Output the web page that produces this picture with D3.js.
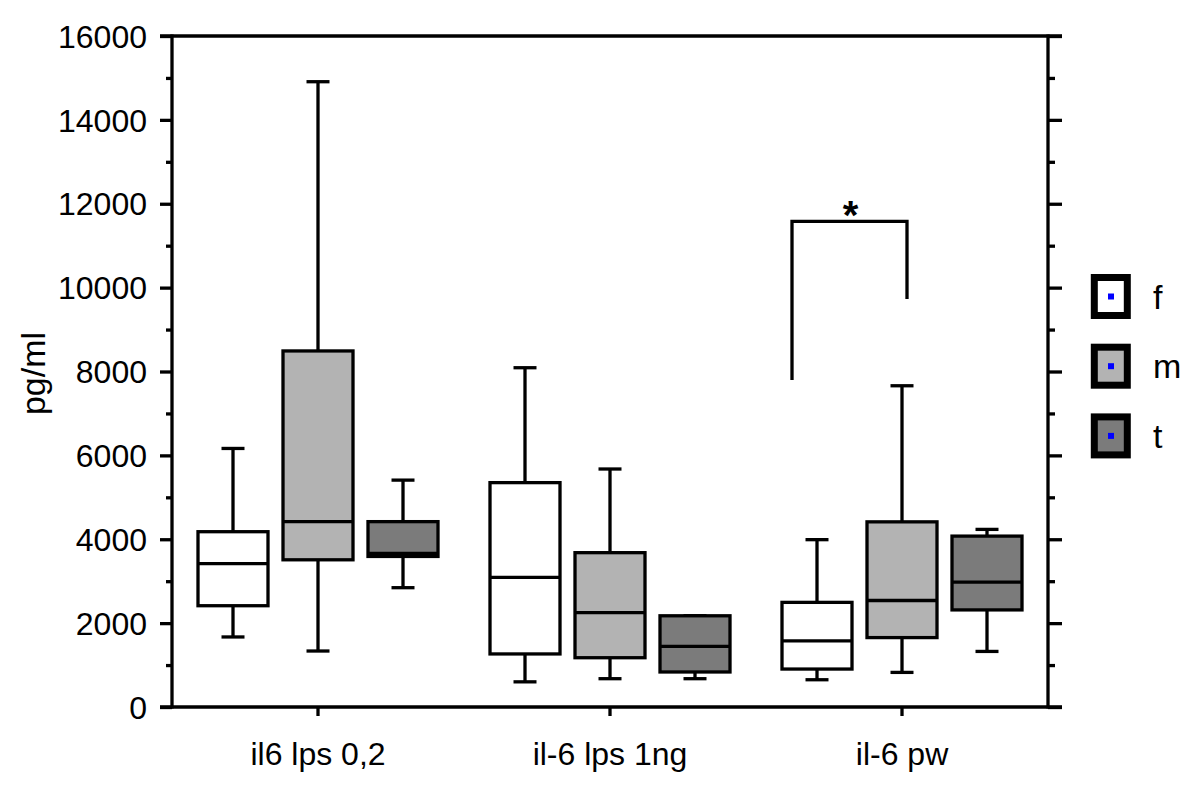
<!DOCTYPE html>
<html>
<head>
<meta charset="utf-8">
<script src="https://cdn.jsdelivr.net/npm/d3@7/dist/d3.min.js"></script>
<style>
  html, body { margin: 0; padding: 0; background: #ffffff; }
  svg { display: block; font-family: "Liberation Sans", Arial, sans-serif; }
</style>
</head>
<body>
<svg id="chart" width="1200" height="795"></svg>
<script>
// ---- data ----
const categories = ["il6 lps 0,2", "il-6 lps 1ng", "il-6 pw"];
const series = ["f", "m", "t"];
const seriesColors = ["#ffffff", "#b3b3b3", "#7b7b7b"];

const whiskerLow = {
  f: [1670, 600, 650],
  m: [1335, 675, 825],
  t: [2845, 675, 1325]
};
const q1 = {
  f: [2415, 1265, 905],
  m: [3510, 1175, 1655],
  t: [3590, 835, 2315]
};
const median = {
  f: [3420, 3090, 1575],
  m: [4420, 2250, 2540],
  t: [3660, 1445, 2980]
};
const q3 = {
  f: [4180, 5350, 2495],
  m: [8490, 3680, 4415],
  t: [4420, 2175, 4075]
};
const whiskerHigh = {
  f: [6165, 8090, 3990],
  m: [14910, 5675, 7660],
  t: [5410, 2175, 4235]
};

const yTicks = [0, 2000, 4000, 6000, 8000, 10000, 12000, 14000, 16000];
const yMinorTicks = [1000, 3000, 5000, 7000, 9000, 11000, 13000, 15000];

// significance bracket (category "il-6 pw", f vs m)
const bracketCategory = "il-6 pw";
const bracketTop = 11580;
const bracketLeftEnd = 7800;
const bracketRightEnd = 9730;
const bracketLabel = "*";

// ---- layout ----
const svg = d3.select("#chart");
const pLeft = 172, pRight = 1048, pTop = 36, pBottom = 707;

const x = d3.scaleBand().domain(categories).range([pLeft, pRight]);
const xs = d3.scalePoint().domain(series).range([-85, 85]);
const y = d3.scaleLinear().domain([0, 16000]).range([pBottom, pTop]);
const boxW = 73, capW = 23;
const black = "#000000";
const sw = 3.3;

// boxes
const g = svg.append("g");
categories.forEach((c, ci) => {
  series.forEach((s, si) => {
    const cx = x(c) + x.bandwidth() / 2 + xs(s);
    const gg = g.append("g");
    gg.append("line").attr("x1", cx).attr("x2", cx)
      .attr("y1", y(whiskerHigh[s][ci])).attr("y2", y(q3[s][ci]))
      .attr("stroke", black).attr("stroke-width", sw);
    gg.append("line").attr("x1", cx).attr("x2", cx)
      .attr("y1", y(q1[s][ci])).attr("y2", y(whiskerLow[s][ci]))
      .attr("stroke", black).attr("stroke-width", sw);
    gg.append("line").attr("x1", cx - capW / 2).attr("x2", cx + capW / 2)
      .attr("y1", y(whiskerHigh[s][ci])).attr("y2", y(whiskerHigh[s][ci]))
      .attr("stroke", black).attr("stroke-width", sw);
    gg.append("line").attr("x1", cx - capW / 2).attr("x2", cx + capW / 2)
      .attr("y1", y(whiskerLow[s][ci])).attr("y2", y(whiskerLow[s][ci]))
      .attr("stroke", black).attr("stroke-width", sw);
    gg.append("rect")
      .attr("x", cx - boxW / 2 + 1.5).attr("width", boxW - 3)
      .attr("y", y(q3[s][ci])).attr("height", y(q1[s][ci]) - y(q3[s][ci]))
      .attr("fill", seriesColors[si]).attr("stroke", black).attr("stroke-width", sw);
    gg.append("line").attr("x1", cx - boxW / 2 + 1.5).attr("x2", cx + boxW / 2 - 1.5)
      .attr("y1", y(median[s][ci])).attr("y2", y(median[s][ci]))
      .attr("stroke", black).attr("stroke-width", sw);
  });
});

// bracket
(function () {
  const bc = x(bracketCategory) + x.bandwidth() / 2;
  const lx = bc + xs("f") - 25;
  const rx = bc + xs("m") + 5;
  svg.append("path")
    .attr("d", d3.line()([[lx, y(bracketLeftEnd)], [lx, y(bracketTop)], [rx, y(bracketTop)], [rx, y(bracketRightEnd)]]))
    .attr("fill", "none").attr("stroke", black).attr("stroke-width", sw);
  svg.append("text")
    .attr("x", (lx + rx) / 2 + 1).attr("y", y(bracketTop) + 8)
    .attr("text-anchor", "middle").attr("font-size", 40).attr("font-weight", "bold").attr("fill", black)
    .text(bracketLabel);
})();

// axes frame
const axisG = svg.append("g");
const gl = axisG.append("g").attr("transform", `translate(${pLeft},0)`)
  .call(d3.axisLeft(y).tickValues(yTicks).tickSize(12).tickFormat(d3.format("d")));
gl.select(".domain").remove();
gl.selectAll(".tick line").attr("stroke", black).attr("stroke-width", sw);
gl.selectAll(".tick text").attr("font-size", 32).attr("fill", black)
  .attr("x", -25).attr("dy", "0.35em").style("font-family", "'Liberation Sans', Arial, sans-serif");
const glm = axisG.append("g").attr("transform", `translate(${pLeft},0)`)
  .call(d3.axisLeft(y).tickValues(yMinorTicks).tickSize(6).tickFormat(""));
glm.select(".domain").remove();
glm.selectAll(".tick line").attr("stroke", black).attr("stroke-width", sw);

const gr = axisG.append("g").attr("transform", `translate(${pRight},0)`)
  .call(d3.axisRight(y).tickValues(yTicks).tickSize(14).tickFormat(""));
gr.select(".domain").remove();
gr.selectAll(".tick line").attr("stroke", black).attr("stroke-width", sw);
const grm = axisG.append("g").attr("transform", `translate(${pRight},0)`)
  .call(d3.axisRight(y).tickValues(yMinorTicks).tickSize(7).tickFormat(""));
grm.select(".domain").remove();
grm.selectAll(".tick line").attr("stroke", black).attr("stroke-width", sw);

axisG.append("line").attr("x1", pLeft).attr("x2", pLeft).attr("y1", pTop - 1.5).attr("y2", pBottom + 1.5)
  .attr("stroke", black).attr("stroke-width", sw);
axisG.append("line").attr("x1", pRight).attr("x2", pRight).attr("y1", pTop - 1.5).attr("y2", pBottom + 1.5)
  .attr("stroke", black).attr("stroke-width", sw);
axisG.append("line").attr("x1", pLeft - 12).attr("x2", pRight + 14).attr("y1", pTop).attr("y2", pTop)
  .attr("stroke", black).attr("stroke-width", sw);
axisG.append("line").attr("x1", pLeft - 12).attr("x2", pRight + 14).attr("y1", pBottom).attr("y2", pBottom)
  .attr("stroke", black).attr("stroke-width", sw);

const gb = axisG.append("g").attr("transform", `translate(0,${pBottom})`)
  .call(d3.axisBottom(x).tickSize(9).tickSizeOuter(0));
gb.select(".domain").remove();
gb.selectAll(".tick line").attr("stroke", black).attr("stroke-width", sw);
gb.selectAll(".tick text").attr("font-size", 32).attr("fill", black)
  .attr("y", 0).attr("dy", "58").style("font-family", "'Liberation Sans', Arial, sans-serif");

svg.append("text")
  .attr("transform", `translate(45,${(330 + 417) / 2}) rotate(-90)`)
  .attr("text-anchor", "middle").attr("font-size", 34).attr("fill", black)
  .text("pg/ml");

const legend = svg.append("g");
series.forEach((s, i) => {
  const cy = 296.5 + i * 69.7;
  legend.append("rect")
    .attr("x", 1094.3).attr("y", cy - 19).attr("width", 33).attr("height", 38)
    .attr("fill", seriesColors[i]).attr("stroke", black).attr("stroke-width", 7);
  legend.append("rect")
    .attr("x", 1108).attr("y", cy - 3).attr("width", 6).attr("height", 6)
    .attr("fill", "#0000ff");
  legend.append("text")
    .attr("x", 1153).attr("y", cy).attr("dy", "0.36em")
    .attr("font-size", 34).attr("fill", black).text(s);
});
</script>
</body>
</html>
